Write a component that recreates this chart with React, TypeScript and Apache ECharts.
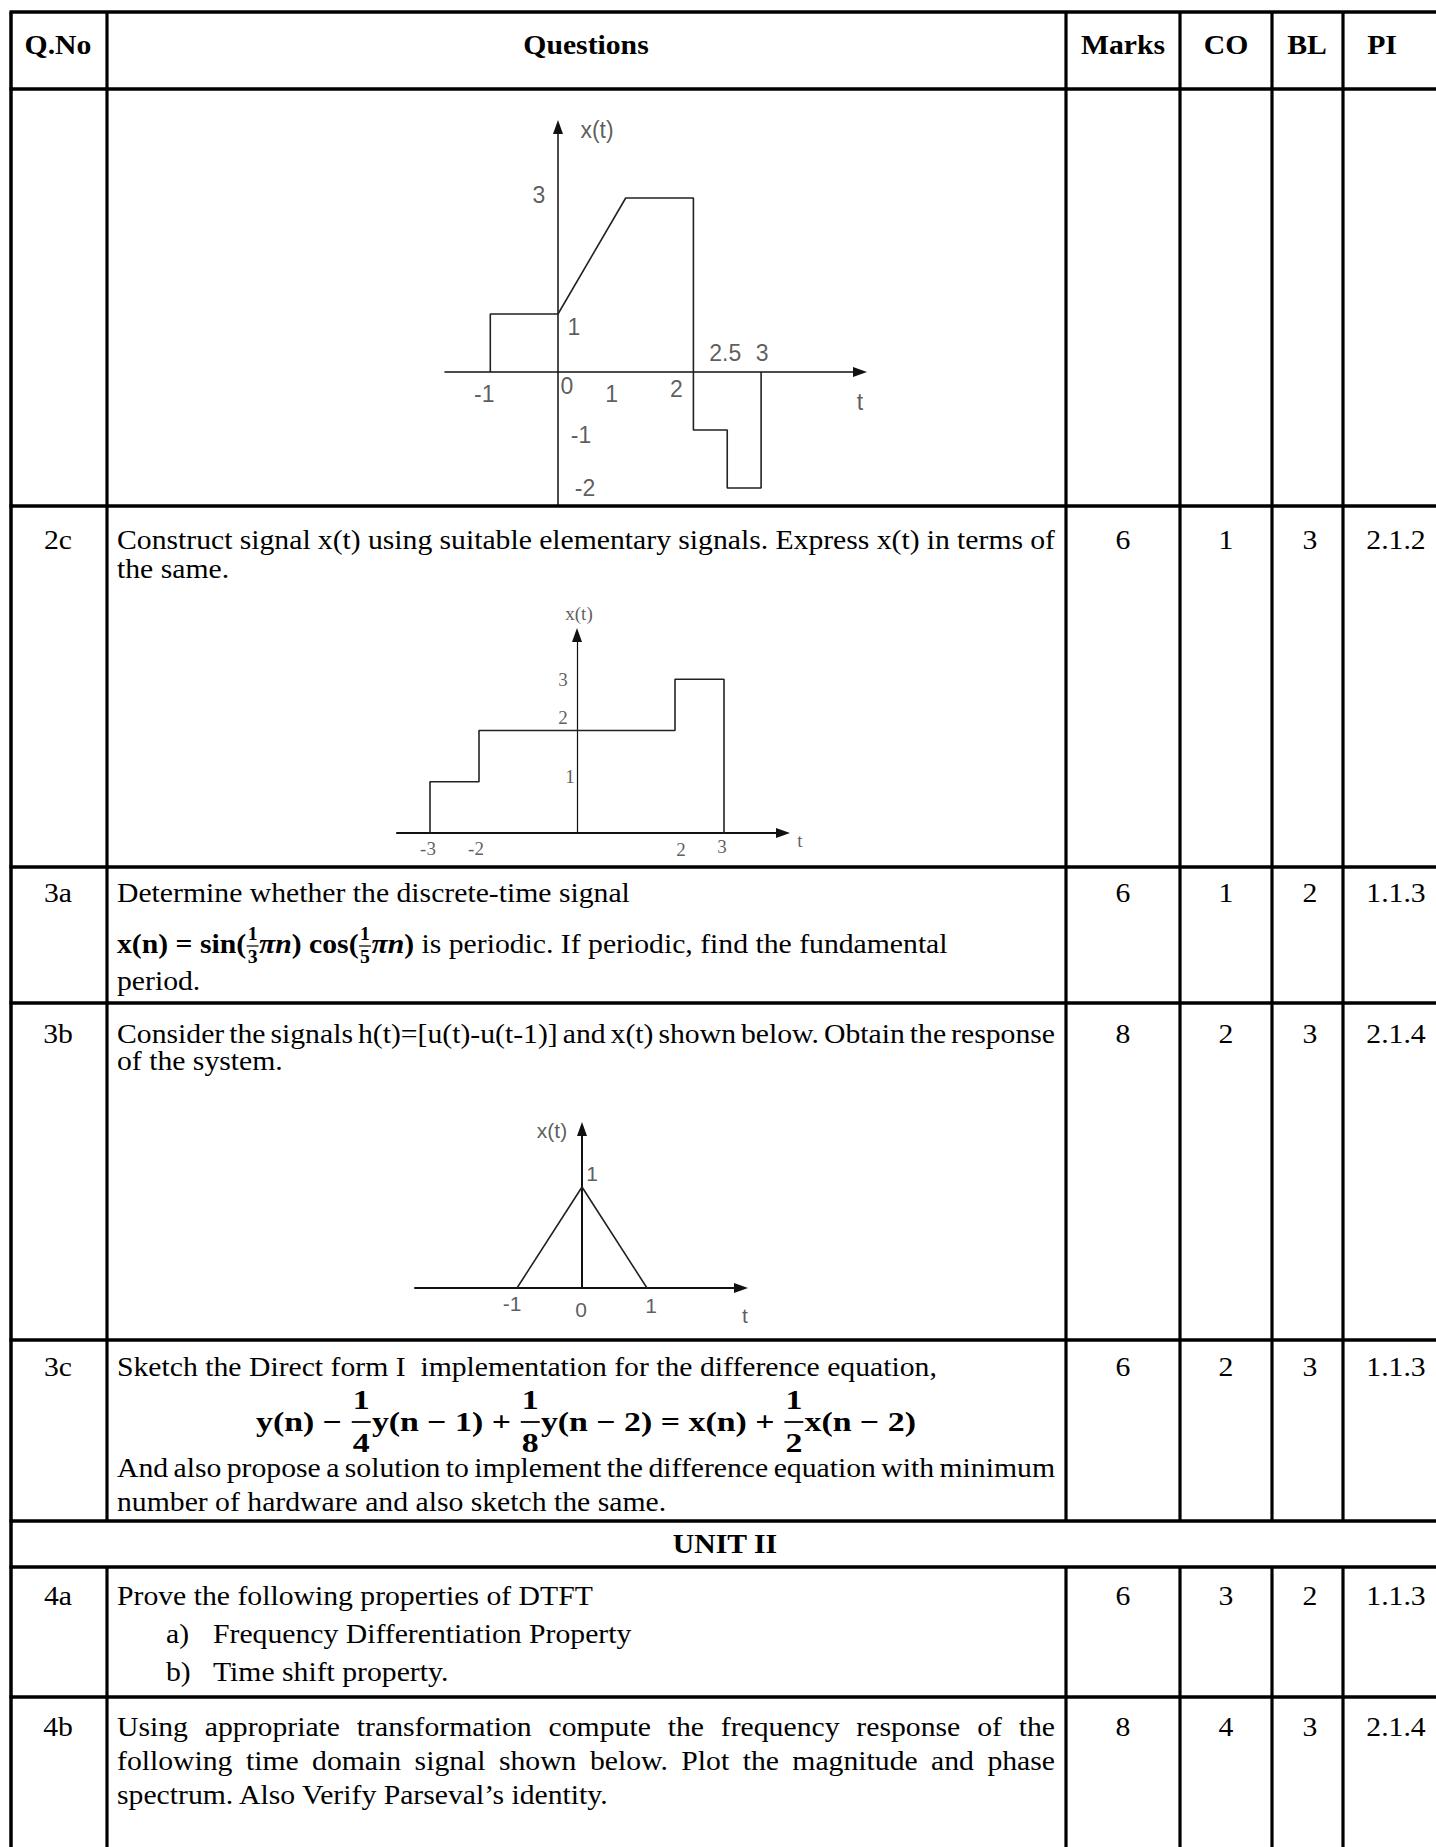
import React, { useEffect, useRef } from 'react';
import * as echarts from 'echarts';

// ---------------- data ----------------
const headers = ['Q.No', 'Questions', 'Marks', 'CO', 'BL', 'PI'];
const qNos = ['2c', '3a', '3b', '3c', '4a', '4b'];
const marks = ['6', '6', '8', '6', '6', '8'];
const courseOutcomes = ['1', '1', '2', '2', '3', '4'];
const bloomLevels = ['3', '2', '3', '3', '2', '3'];
const perfIndicators = ['2.1.2', '1.1.3', '2.1.4', '1.1.3', '1.1.3', '2.1.4'];
const unitTitle = 'UNIT II';

const q2c = ['Construct signal x(t) using suitable elementary signals. Express x(t) in terms of', 'the same.'];
const q3a = ['Determine whether the discrete-time signal', 'period.'];
const q3aFormula = ['x(n) = sin(', '1', '3', 'πn', ') cos(', '1', '5', 'πn', ')', ' is periodic. If periodic, find the fundamental'];
const q3b = ['Consider the signals h(t)=[u(t)-u(t-1)] and x(t) shown below. Obtain the response', 'of the system.'];
const q3c = ['Sketch the Direct form I  implementation for the difference equation,', 'And also propose a solution to implement the difference equation with minimum', 'number of hardware and also sketch the same.'];
const q3cEq = ['y(n) − ', '1', '4', 'y(n − 1) + ', '1', '8', 'y(n − 2) = x(n) + ', '1', '2', 'x(n − 2)'];
const q4a = ['Prove the following properties of DTFT'];
const q4aItems = ['a)', 'Frequency Differentiation Property', 'b)', 'Time shift property.'];
const q4b = ['Using appropriate transformation compute the frequency response of the', 'following time domain signal shown below. Plot the magnitude and phase', 'spectrum. Also Verify Parseval’s identity.'];

// signal of the first row (continuation of question 2b)
const sig1T = [-1, -1, 0, 1, 2, 2, 2.5, 2.5, 3, 3];
const sig1X = [0, 1, 1, 3, 3, -1, -1, -2, -2, 0];
const sig1TTicks = ['-1', '0', '1', '2', '2.5', '3'];
const sig1XTicks = ['3', '1', '-1', '-2'];
// signal of 2c
const sig2T = [-3, -3, -2, -2, 2, 2, 3, 3];
const sig2X = [0, 1, 1, 2, 2, 3, 3, 0];
const sig2TTicks = ['-3', '-2', '2', '3'];
const sig2XTicks = ['3', '2', '1'];
// signal of 3b
const sig3T = [-1, 0, 1];
const sig3X = [0, 1, 0];
const sig3TTicks = ['-1', '0', '1'];
const sig3XTicks = ['1'];

// ---------------- layout ----------------
const SERIF = 'Liberation Serif';
const SANS = 'Liberation Sans';
const SX = 1.1;
const FS = 27;
const COLX = [11, 107, 1066, 1180, 1272, 1343];
const ROWY = [12, 89, 506, 867, 1003, 1340, 1521, 1567, 1697];
const HEAD_Y = 45;
const HEAD_CX = [58, 586, 1123, 1226, 1307, 1382];
const VAL_CX = [58, 1123, 1226, 1310, 1396];
const FIRST_Y = [540, 893, 1034, 1367, 1596, 1727];
const TEXT_X = 117;
const TEXT_R = 1055;
const EQ_CX = 586;
const EQ_W = 660;

const PLOTS = [
  {
    T: sig1T, X: sig1X, tTicks: sig1TTicks, xTicks: sig1XTicks,
    ox: 558, oy: 372, ux: 67.7, uy: 58, left: 445, right: 860, top: 127, bottom: 506,
    font: SANS, size: 23, axisW: 1.5, yAxisW: 1.5,
    tOff: [[-6, 22], [9, 14], [-14, 22], [-17, 17], [-2, -19], [1, -19]],
    xOff: [[-19, -3], [16, 13], [23, 5], [27, 0]],
    nameOff: [39, 3], tNameOff: [0, 30],
  },
  {
    T: sig2T, X: sig2X, tTicks: sig2TTicks, xTicks: sig2XTicks,
    ox: 577, oy: 833, ux: 49, uy: 51.25, left: 397, right: 783, top: 635, bottom: 833,
    font: SERIF, size: 19, axisW: 2.2, yAxisW: 1.2,
    tOff: [[-2, 15], [-3, 15], [6, 16], [-2, 13]],
    xOff: [[-14, 0], [-14, -13], [-7, -5]],
    nameOff: [2, -22], tNameOff: [17, 7],
  },
  {
    T: sig3T, X: sig3X, tTicks: sig3TTicks, xTicks: sig3XTicks,
    ox: 582, oy: 1288, ux: 65, uy: 101, left: 415, right: 741, top: 1129, bottom: 1288,
    font: SANS, size: 21, axisW: 2, yAxisW: 2,
    tOff: [[-5, 15], [-1, 21], [4, 17]],
    xOff: [[10, -14]],
    nameOff: [-30, 1], tNameOff: [4, 27],
  },
];

type F = { size: number; weight: string; italic: boolean };
const mk = (size: number, weight = 'normal', italic = false): F => ({ size, weight, italic });

function T(x: number, y: number, s: string, f: F, align = 'left', sx = SX): any {
  return {
    type: 'text', x, y, scaleX: sx, silent: true, z: 10,
    style: {
      text: s, x: 0, y: 0, fill: '#000',
      fontFamily: SERIF, fontSize: f.size, fontWeight: f.weight, fontStyle: f.italic ? 'italic' : 'normal',
      textAlign: align, textVerticalAlign: 'middle', align, verticalAlign: 'middle',
    },
  };
}
function L(x1: number, y1: number, x2: number, y2: number, w = 3): any {
  return { type: 'line', silent: true, z: 5, shape: { x1, y1, x2, y2 }, style: { stroke: '#000', lineWidth: w } };
}

export default function App() {
  const ref = useRef<HTMLDivElement>(null);
  useEffect(() => {
    if (!ref.current) return;
    const canvas = document.createElement('canvas');
    const ctx = canvas.getContext('2d')!;
    const measure = (s: string, f: F) => {
      ctx.font = `${f.italic ? 'italic' : 'normal'} ${f.weight} ${f.size}px ${SERIF}`;
      return ctx.measureText(s).width * SX;
    };

    const R = mk(FS);
    const B = mk(FS, 'bold');
    const BI = mk(FS, 'bold', true);
    const els: any[] = [];

    const justified = (y: number, s: string) => {
      const words = s.split(' ');
      const ws = words.map((w) => measure(w, R));
      const total = ws.reduce((a, b) => a + b, 0);
      const gap = (TEXT_R - TEXT_X - total) / (words.length - 1);
      let x = TEXT_X;
      words.forEach((w, i) => { els.push(T(x, y, w, R)); x += ws[i] + gap; });
    };

    type Part = { s: string; f: F } | { num: string; den: string; f: F; nDy: number; dDy: number; barDy: number; pad: number; bw: number };
    const sequence = (x0: number, y: number, parts: Part[], draw: boolean, k = 1) => {
      let x = x0;
      for (const p of parts) {
        if ('s' in p) {
          const w = measure(p.s, p.f) * k;
          if (draw) els.push(T(x, y, p.s, p.f, 'left', SX * k));
          x += w;
        } else {
          const w = Math.max(measure(p.num, p.f), measure(p.den, p.f)) * k;
          const pad = p.pad * k;
          const cx = x + pad + w / 2;
          if (draw) {
            els.push(T(cx, y + p.nDy, p.num, p.f, 'center', SX * k));
            els.push(T(cx, y + p.dDy, p.den, p.f, 'center', SX * k));
            els.push(L(x + pad - 1, y + p.barDy, x + pad + w + 1, y + p.barDy, p.bw));
          }
          x += w + 2 * pad;
        }
      }
      return x - x0;
    };

    // ---- table lines ----
    ROWY.forEach((y) => els.push(L(COLX[0] - 1.5, y, 1436, y, 3.5)));
    els.push(L(COLX[0], ROWY[0], COLX[0], 1847, 3.5));
    COLX.slice(1).forEach((x) => {
      els.push(L(x, ROWY[0], x, ROWY[6], 3.2));
      els.push(L(x, ROWY[7], x, 1847, 3.2));
    });

    // ---- header ----
    headers.forEach((h, i) => els.push(T(HEAD_CX[i], HEAD_Y, h, B, 'center')));

    // ---- per-row columns ----
    qNos.forEach((q, i) => {
      const y = FIRST_Y[i];
      els.push(T(VAL_CX[0], y, q, R, 'center'));
      els.push(T(VAL_CX[1], y, marks[i], R, 'center'));
      els.push(T(VAL_CX[2], y, courseOutcomes[i], R, 'center'));
      els.push(T(VAL_CX[3], y, bloomLevels[i], R, 'center'));
      els.push(T(VAL_CX[4], y, perfIndicators[i], R, 'center'));
    });

    // ---- 2c ----
    justified(FIRST_Y[0], q2c[0]);
    els.push(T(TEXT_X, FIRST_Y[0] + 29, q2c[1], R));

    // ---- 3a ----
    els.push(T(TEXT_X, FIRST_Y[1], q3a[0], R));
    const FR = mk(18, 'bold');
    const frA = (n: string, d: string) => ({ num: n, den: d, f: FR, nDy: -10, dDy: 13, barDy: 2, pad: 1.5, bw: 1.2 });
    const f = q3aFormula;
    sequence(TEXT_X, FIRST_Y[1] + 51, [
      { s: f[0], f: B }, frA(f[1], f[2]), { s: f[3], f: BI }, { s: f[4], f: B },
      frA(f[5], f[6]), { s: f[7], f: BI }, { s: f[8], f: B }, { s: f[9], f: R },
    ], true);
    els.push(T(TEXT_X, FIRST_Y[1] + 88, q3a[1], R));

    // ---- 3b ----
    justified(FIRST_Y[2], q3b[0]);
    els.push(T(TEXT_X, FIRST_Y[2] + 27, q3b[1], R));

    // ---- 3c ----
    els.push(T(TEXT_X, FIRST_Y[3], q3c[0], R));
    const EB = mk(28, 'bold');
    const frC = (n: string, d: string) => ({ num: n, den: d, f: EB, nDy: -22, dDy: 21, barDy: 0, pad: 2, bw: 1.8 });
    const e = q3cEq;
    const eqParts: Part[] = [
      { s: e[0], f: EB }, frC(e[1], e[2]), { s: e[3], f: EB }, frC(e[4], e[5]),
      { s: e[6], f: EB }, frC(e[7], e[8]), { s: e[9], f: EB },
    ];
    const eqW = sequence(0, 0, eqParts, false);
    const k = EQ_W / eqW;
    sequence(EQ_CX - EQ_W / 2, FIRST_Y[3] + 55, eqParts, true, k);
    justified(FIRST_Y[3] + 101, q3c[1]);
    els.push(T(TEXT_X, FIRST_Y[3] + 135, q3c[2], R));

    // ---- UNIT II ----
    els.push(T(725, (ROWY[6] + ROWY[7]) / 2, unitTitle, B, 'center'));

    // ---- 4a ----
    els.push(T(TEXT_X, FIRST_Y[4], q4a[0], R));
    els.push(T(166, FIRST_Y[4] + 38, q4aItems[0], R));
    els.push(T(213, FIRST_Y[4] + 38, q4aItems[1], R));
    els.push(T(166, FIRST_Y[4] + 76, q4aItems[2], R));
    els.push(T(213, FIRST_Y[4] + 76, q4aItems[3], R));

    // ---- 4b ----
    justified(FIRST_Y[5], q4b[0]);
    justified(FIRST_Y[5] + 34, q4b[1]);
    els.push(T(TEXT_X, FIRST_Y[5] + 68, q4b[2], R));

    // ---- plots ----
    const grids: any[] = [];
    const xAxes: any[] = [];
    const yAxes: any[] = [];
    const series: any[] = [];
    PLOTS.forEach((p, i) => {
      const xMin = (p.left - p.ox) / p.ux;
      const xMax = (p.right - p.ox) / p.ux;
      const yMax = (p.oy - p.top) / p.uy;
      const yMin = (p.oy - p.bottom) / p.uy;
      grids.push({ left: p.left, top: p.top, width: p.right - p.left, height: p.bottom - p.top, outerBoundsMode: 'none' });
      const axisCommon = {
        type: 'value', gridIndex: i,
        axisTick: { show: false }, axisLabel: { show: false }, splitLine: { show: false },
      };
      xAxes.push({
        ...axisCommon, min: xMin, max: xMax,
        axisLine: { show: true, onZero: true, symbol: ['none', 'triangle'], symbolSize: [10, 14], lineStyle: { color: '#111', width: p.axisW } },
      });
      yAxes.push({
        ...axisCommon, min: yMin, max: yMax,
        axisLine: { show: true, onZero: true, symbol: ['none', 'triangle'], symbolSize: [10, 14], lineStyle: { color: '#111', width: p.yAxisW } },
      });
      series.push({
        type: 'line', xAxisIndex: i, yAxisIndex: i, silent: true,
        data: p.T.map((t, j) => [t, p.X[j]]),
        showSymbol: false, symbol: 'none',
        lineStyle: { color: '#222', width: 1.6 }, z: 3,
      });
      const labels: any[] = [];
      p.tTicks.forEach((t, j) => labels.push({ name: t, value: [parseFloat(t), 0], label: { offset: p.tOff[j] } }));
      p.xTicks.forEach((v, j) => labels.push({ name: v, value: [0, parseFloat(v)], label: { offset: p.xOff[j] } }));
      labels.push({ name: 'x(t)', value: [0, yMax], label: { offset: p.nameOff } });
      labels.push({ name: 't', value: [xMax, 0], label: { offset: p.tNameOff } });
      series.push({
        type: 'scatter', xAxisIndex: i, yAxisIndex: i, silent: true, clip: false,
        symbolSize: 0, data: labels, z: 4,
        label: { show: true, position: 'inside', formatter: '{b}', fontFamily: p.font, fontSize: p.size, color: '#333' },
      });
    });

    const chart = echarts.init(ref.current, undefined, { renderer: 'svg' });
    chart.setOption({
      animation: false,
      backgroundColor: '#fff',
      grid: grids,
      xAxis: xAxes,
      yAxis: yAxes,
      series,
      graphic: { elements: els },
    });
    return () => chart.dispose();
  }, []);
  return <div ref={ref} style={{ position: 'absolute', left: 0, top: 0, width: 1436, height: 1847 }} />;
}
